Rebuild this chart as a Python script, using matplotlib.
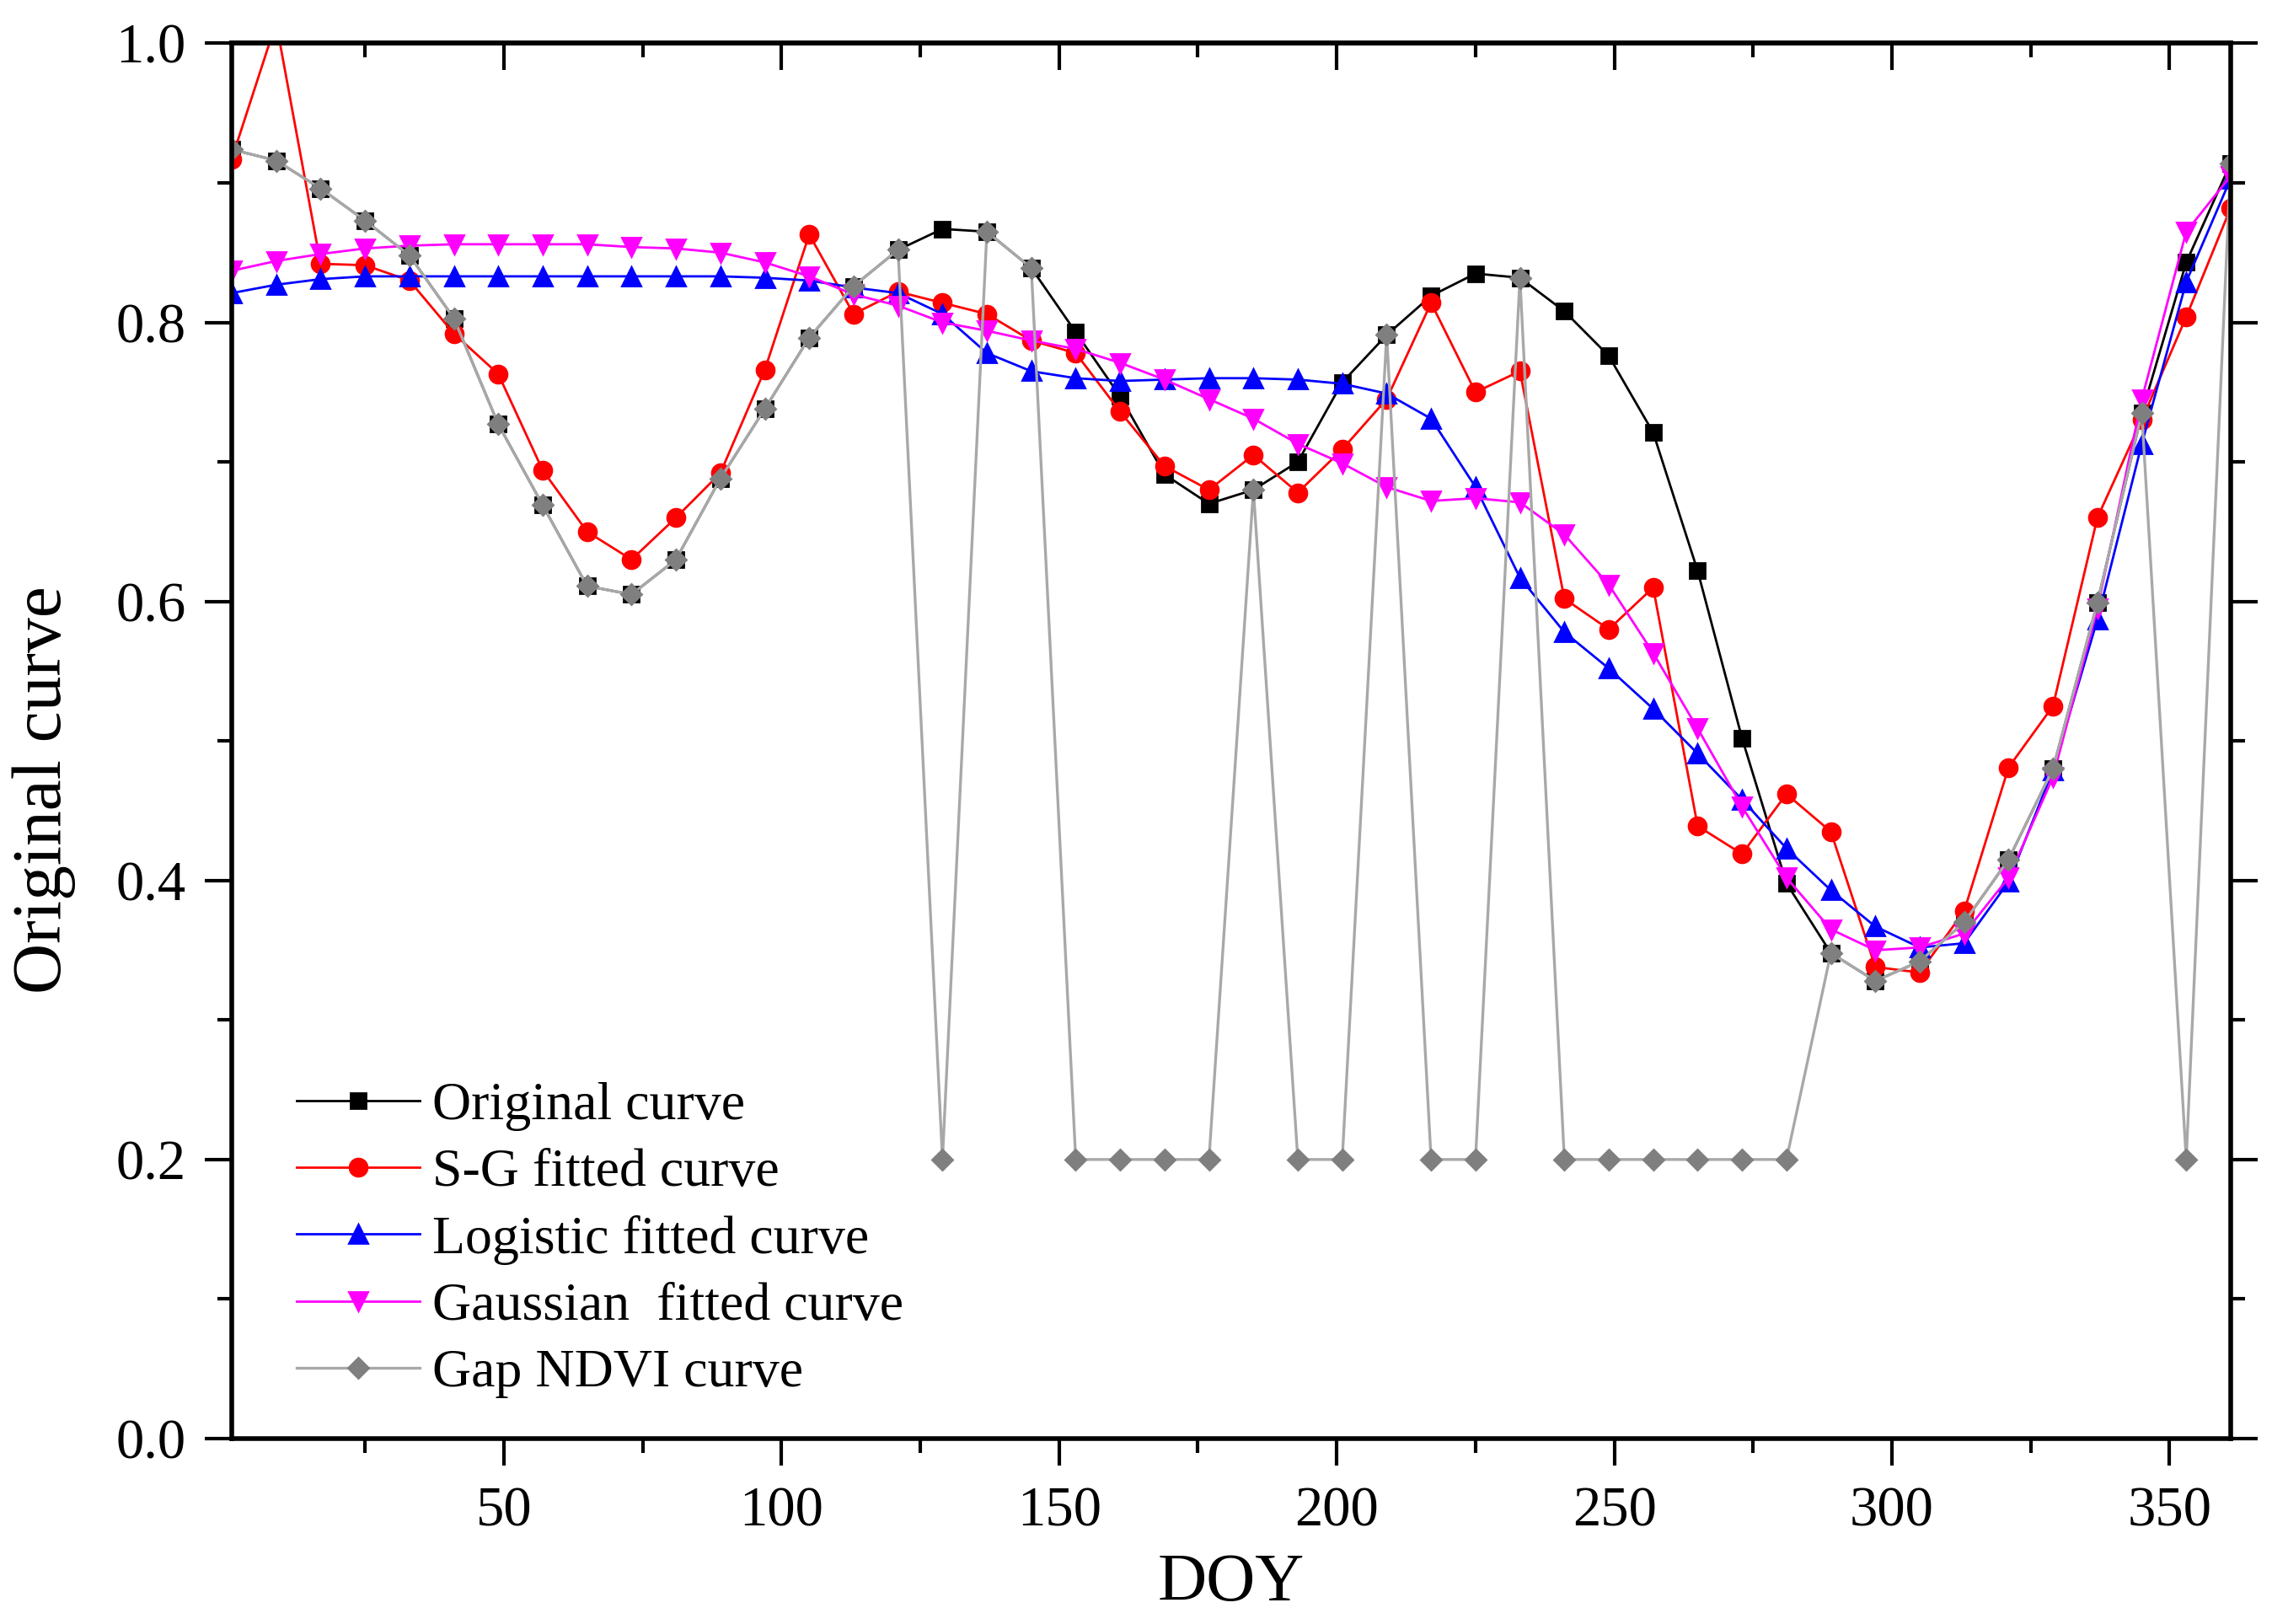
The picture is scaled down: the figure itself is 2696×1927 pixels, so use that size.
import numpy as np
import matplotlib
matplotlib.use('Agg')
import matplotlib.pyplot as plt
from matplotlib.ticker import MultipleLocator

plt.rcParams['font.family'] = ['Liberation Serif', 'DejaVu Serif']

# DOY of the 46 composites (8-day step)
doy = list(range(1, 362, 8))

original = [0.924, 0.916, 0.896, 0.873, 0.848, 0.803, 0.727, 0.669, 0.611, 0.605,
            0.630, 0.688, 0.738, 0.789, 0.826, 0.852, 0.867, 0.865, 0.839, 0.793,
            0.747, 0.691, 0.670, 0.680, 0.700, 0.757, 0.791, 0.819, 0.835, 0.832,
            0.808, 0.776, 0.721, 0.622, 0.502, 0.398, 0.348, 0.328, 0.342, 0.370,
            0.415, 0.480, 0.599, 0.735, 0.843, 0.914]

sg_fit = [0.917, 1.015, 0.842, 0.841, 0.830, 0.792, 0.763, 0.694, 0.650, 0.630,
          0.660, 0.692, 0.766, 0.863, 0.806, 0.822, 0.814, 0.806, 0.787, 0.778,
          0.736, 0.697, 0.680, 0.705, 0.678, 0.709, 0.745, 0.814, 0.750, 0.765,
          0.602, 0.580, 0.610, 0.439, 0.419, 0.462, 0.435, 0.338, 0.334, 0.378,
          0.481, 0.525, 0.660, 0.730, 0.804, 0.882]

logistic_fit = [0.821, 0.827, 0.831, 0.833, 0.833, 0.833, 0.833, 0.833, 0.833, 0.833,
                0.833, 0.833, 0.832, 0.830, 0.825, 0.821, 0.806, 0.778, 0.765, 0.760,
                0.758, 0.759, 0.760, 0.760, 0.759, 0.756, 0.749, 0.731, 0.682, 0.617,
                0.578, 0.552, 0.523, 0.491, 0.458, 0.423, 0.393, 0.367, 0.352, 0.355,
                0.399, 0.479, 0.587, 0.713, 0.829, 0.903]

gaussian_fit = [0.837, 0.844, 0.849, 0.853, 0.855, 0.856, 0.856, 0.856, 0.856, 0.854,
                0.853, 0.850, 0.843, 0.833, 0.820, 0.812, 0.800, 0.794, 0.787, 0.781,
                0.771, 0.759, 0.745, 0.731, 0.713, 0.699, 0.682, 0.672, 0.674, 0.671,
                0.648, 0.612, 0.563, 0.509, 0.453, 0.402, 0.365, 0.350, 0.352, 0.362,
                0.402, 0.474, 0.595, 0.745, 0.865, 0.905]

gap_ndvi = [0.924, 0.916, 0.896, 0.873, 0.848, 0.803, 0.727, 0.669, 0.611, 0.605,
            0.630, 0.688, 0.738, 0.789, 0.826, 0.852, 0.200, 0.865, 0.839, 0.200,
            0.200, 0.200, 0.200, 0.680, 0.200, 0.200, 0.791, 0.200, 0.200, 0.832,
            0.200, 0.200, 0.200, 0.200, 0.200, 0.200, 0.348, 0.328, 0.342, 0.370,
            0.415, 0.480, 0.599, 0.735, 0.200, 0.914]

fig = plt.figure(figsize=(13.48, 9.635), dpi=200)
ax = fig.add_axes([0.102, 0.1142, 0.8798, 0.8591])

ax.plot(doy, original, '-s', color='black', lw=1.0, ms=6.5, label='Original curve')
ax.plot(doy, sg_fit, '-o', color='#ff0000', lw=1.0, ms=7.5, label='S-G fitted curve')
ax.plot(doy, logistic_fit, '-^', color='#0000ff', lw=1.0, ms=8,
        label='Logistic fitted curve')
ax.plot(doy, gaussian_fit, '-v', color='#ff00ff', lw=1.0, ms=8,
        label='Gaussian  fitted curve')
ax.plot(doy, gap_ndvi, '-D', color='#a8a8a8', mfc='#7f7f7f', mec='#7f7f7f',
        lw=1.2, ms=6, label='Gap NDVI curve')

ax.set_xlim(1, 361)
ax.set_ylim(0, 1.0)
ax.xaxis.set_major_locator(MultipleLocator(50))
ax.xaxis.set_minor_locator(MultipleLocator(25))
ax.yaxis.set_major_locator(MultipleLocator(0.2))
ax.yaxis.set_minor_locator(MultipleLocator(0.1))
ax.yaxis.set_major_formatter(plt.FormatStrFormatter('%.1f'))

for s in ax.spines.values():
    s.set_linewidth(2.0)

ax.tick_params(axis='both', which='major', direction='out', length=11.5,
               width=1.5, labelsize=24)
ax.tick_params(axis='x', which='major', pad=9)
ax.tick_params(axis='y', which='major', pad=8)
ax.tick_params(axis='both', which='minor', direction='out', length=6, width=1.5)
ax.tick_params(axis='y', right=True, which='both')

# top axis: ticks pointing inward, no labels
top = ax.secondary_xaxis('top')
top.xaxis.set_major_locator(MultipleLocator(50))
top.xaxis.set_minor_locator(MultipleLocator(25))
top.tick_params(which='major', direction='in', length=11.5, width=1.5, labeltop=False)
top.tick_params(which='minor', direction='in', length=6, width=1.5)
top.spines['top'].set_linewidth(2.0)

ax.set_xlabel('DOY', fontsize=29)
ax.set_ylabel('Original curve', fontsize=30)
ax.xaxis.set_label_coords(0.5, -0.082)
ax.yaxis.set_label_coords(-0.078, 0.465)

ax.legend(loc='upper left', bbox_to_anchor=(0.1306, 0.334),
          bbox_transform=fig.transFigure, frameon=False, fontsize=23,
          borderpad=0, borderaxespad=0, labelspacing=0.32,
          handlelength=2.28, handletextpad=0.24)

fig.savefig('out.png', dpi=200, facecolor='white')
